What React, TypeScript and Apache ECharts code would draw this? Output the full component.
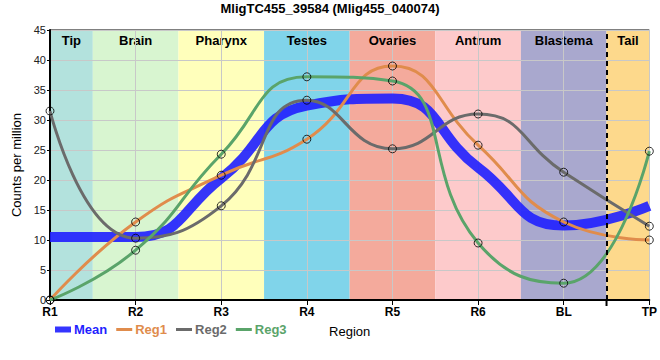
import React, { useEffect, useRef } from 'react';
import * as echarts from 'echarts';

const categories = ['R1', 'R2', 'R3', 'R4', 'R5', 'R6', 'BL', 'TP'];
const meanValues = [10.5, 10.5, 20.3, 32.4, 33.6, 22.1, 12.4, 15.7];
const reg1Values = [0, 13, 20.8, 26.8, 39, 25.8, 13, 10];
const reg2Values = [31.5, 10.3, 15.7, 33.3, 25.2, 31, 21.3, 12.3];
const reg3Values = [0, 8.3, 24.3, 37.2, 36.5, 9.5, 2.8, 24.8];

const regionNames = ['Tip', 'Brain', 'Pharynx', 'Testes', 'Ovaries', 'Antrum', 'Blastema', 'Tail'];
const regionStarts = [0, 0.5, 1.5, 2.5, 3.5, 4.5, 5.5, 6.5];
const regionEnds = [0.5, 1.5, 2.5, 3.5, 4.5, 5.5, 6.5, 7];
const regionColors = ['#b3e2dd', '#d8f5d0', '#ffffbb', '#80d4ea', '#f4aa9c', '#fdcacb', '#a9a8ce', '#fdd98c'];
const tailBoundary = 6.5;

const seriesColors: Record<string, string> = { Mean: '#1f1fff', Reg1: '#e08c4c', Reg2: '#6b6b6b', Reg3: '#5aa46a' };

const toPts = (arr: number[]) => arr.map((v, i) => [i, v]);

const thickIcon = 'path://M0,0M16,8M0,1L16,1L16,7L0,7Z';
const thinIcon = 'path://M0,0M16,8M0,2.5L16,2.5L16,5.5L0,5.5Z';

export default function App() {
  const ref = useRef<HTMLDivElement>(null);
  useEffect(() => {
    document.body.style.margin = '0';
    if (!ref.current) return;
    const chart = echarts.init(ref.current, null, { renderer: 'svg' });
    const font = 'Arial, "Liberation Sans", sans-serif';
    const regs = [
      { name: 'Reg1', data: reg1Values },
      { name: 'Reg2', data: reg2Values },
      { name: 'Reg3', data: reg3Values },
    ];
    const option: any = {
      animation: false,
      textStyle: { fontFamily: font },
      title: {
        text: 'MligTC455_39584 (Mlig455_040074)',
        left: 'center',
        top: 2,
        padding: 0,
        textStyle: { fontSize: 13, fontWeight: 'bold', color: '#000', fontFamily: font },
      },
      grid: { left: 50, right: 10, top: 30, bottom: 60, show: true, borderColor: '#000', borderWidth: 1, backgroundColor: 'transparent' },
      legend: {
        left: 55,
        top: 323,
        padding: 0,
        itemWidth: 16,
        itemHeight: 8,
        itemGap: 9,
        symbolKeepAspect: false,
        textStyle: { fontSize: 13, fontWeight: 'bold', fontFamily: font, padding: [0, 0, 0, -2] },
        data: ['Mean', 'Reg1', 'Reg2', 'Reg3'].map((n) => ({
          name: n,
          icon: n === 'Mean' ? thickIcon : thinIcon,
          itemStyle: { color: seriesColors[n], opacity: n === 'Mean' ? 0.9 : 1 },
          textStyle: { color: seriesColors[n] },
        })),
      },
      xAxis: {
        type: 'value',
        min: 0,
        max: 7,
        interval: 1,
        z: 1,
        name: 'Region',
        nameLocation: 'middle',
        nameGap: 25,
        nameTextStyle: { fontSize: 13, color: '#000', fontFamily: font },
        axisLine: { show: true, lineStyle: { color: '#000', width: 2 } },
        axisTick: { show: true, length: 5, lineStyle: { color: '#000' } },
        axisLabel: {
          fontSize: 12,
          fontWeight: 'bold',
          color: '#000',
          margin: 6,
          formatter: (v: number) => categories[Math.round(v)] ?? '',
        },
        splitLine: { show: true, lineStyle: { color: '#c8c8c8', width: 1 } },
      },
      yAxis: {
        type: 'value',
        min: 0,
        max: 45,
        interval: 5,
        z: 1,
        name: 'Counts per million',
        nameLocation: 'middle',
        nameGap: 24,
        nameTextStyle: { fontSize: 13, color: '#000', fontFamily: font },
        axisLine: { show: true, lineStyle: { color: '#000', width: 2 } },
        axisTick: { show: true, length: 3, lineStyle: { color: '#000' } },
        axisLabel: { fontSize: 11, color: '#222', margin: 4 },
        splitLine: { show: true, lineStyle: { color: '#c8c8c8', width: 1 } },
      },
      series: [
        {
          name: 'bands',
          type: 'line',
          data: [],
          z: 0,
          silent: true,
          markArea: {
            silent: true,
            z: 0,
            label: {
              show: true,
              position: 'insideTop',
              distance: 4,
              fontSize: 13,
              fontWeight: 'bold',
              color: '#000',
              fontFamily: font,
            },
            data: regionNames.map((n, i) => [
              { name: n, xAxis: regionStarts[i], yAxis: 45, itemStyle: { color: regionColors[i], opacity: 1 } },
              { xAxis: regionEnds[i], yAxis: 0 },
            ]),
          },
          markLine: {
            silent: true,
            symbol: 'none',
            label: { show: false },
            lineStyle: { color: '#000', type: [5, 4], width: 2 },
            data: [{ xAxis: tailBoundary }],
          },
        },
        {
          name: 'Mean',
          type: 'line',
          data: toPts(meanValues),
          smooth: 0.5,
          symbol: 'none',
          z: 3,
          color: seriesColors.Mean,
          lineStyle: { width: 10, color: seriesColors.Mean, opacity: 0.9 },
        },
        ...regs.map((r) => ({
          name: r.name,
          type: 'line',
          data: toPts(r.data),
          smooth: 0.5,
          symbol: 'none',
          z: 4,
          color: seriesColors[r.name],
          lineStyle: { width: 3, color: seriesColors[r.name] },
        })),
        ...regs.map((r) => ({
          name: r.name + ' points',
          type: 'scatter',
          data: toPts(r.data),
          symbol: 'circle',
          symbolSize: 8,
          z: 5,
          silent: true,
          itemStyle: { color: 'rgba(255,255,255,0)', borderColor: '#000', borderWidth: 1 },
        })),
      ],
    };
    chart.setOption(option);
    const p = chart.convertToPixel({ gridIndex: 0 }, [tailBoundary, 0]) as number[];
    if (p) {
      chart.setOption({
        graphic: [
          { type: 'line', shape: { x1: p[0], y1: p[1], x2: p[0], y2: p[1] + 6 }, style: { stroke: '#000', lineWidth: 2 }, z: 10 },
        ],
      });
    }
    return () => chart.dispose();
  }, []);
  return <div ref={ref} style={{ width: 660, height: 360 }} />;
}
